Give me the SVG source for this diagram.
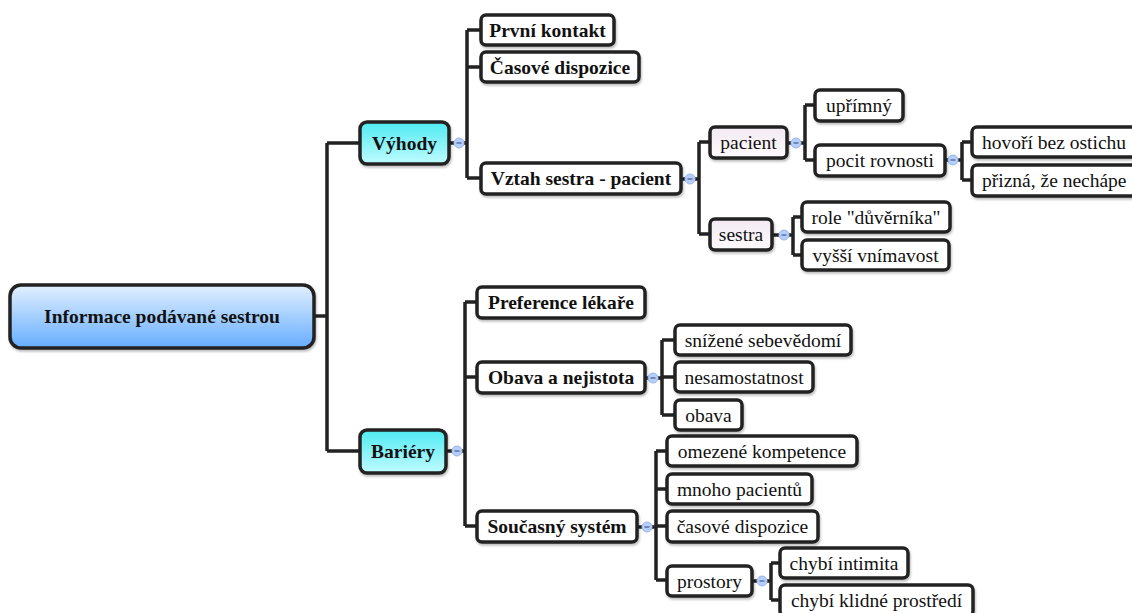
<svg xmlns="http://www.w3.org/2000/svg" width="1132" height="613" viewBox="0 0 1132 613">
  <defs>
    <linearGradient id="gRoot" x1="0" y1="0" x2="0" y2="1">
      <stop offset="0" stop-color="#e2f0ff"/>
      <stop offset="1" stop-color="#66adff"/>
    </linearGradient>
    <linearGradient id="gMain" x1="0" y1="0" x2="0" y2="1">
      <stop offset="0" stop-color="#4feaf2"/>
      <stop offset="1" stop-color="#bffcff"/>
    </linearGradient>
    <linearGradient id="gSub" x1="0" y1="0" x2="0" y2="1">
      <stop offset="0" stop-color="#f3e9f3"/>
      <stop offset="1" stop-color="#fdfbfd"/>
    </linearGradient>
    <filter id="shadow" x="-10%" y="-20%" width="120%" height="150%">
      <feDropShadow dx="1" dy="2" stdDeviation="1.2" flood-color="#000" flood-opacity="0.25"/>
    </filter>
  </defs>
  <style>
    .box { fill: #ffffff; stroke: #222222; stroke-width: 3.5; filter: url(#shadow); }
    .root { fill: url(#gRoot); }
    .main { fill: url(#gMain); }
    .sub { fill: url(#gSub); }
    text { font-family: 'Liberation Serif', 'Times New Roman', Times, serif; font-size: 19.5px; fill: #111111; text-anchor: middle; dominant-baseline: central; }
    .b { font-weight: bold; }
    .l { text-anchor: start; }
    .lnk { fill: none; stroke: #222222; stroke-width: 3.5; stroke-linejoin: miter; }
    .tog circle { fill: #b4ceff; stroke: #9db6e8; stroke-width: 1; }
    .tog line { stroke: #4a5a80; stroke-width: 1.2; }
  </style>

  <rect width="1132" height="613" fill="#ffffff"/>

  <!-- connectors -->
  <g id="connectors">
    <!-- root to main branches -->
    <path class="lnk" d="M314 316 H327 M327 143 V451 M327 143 H360 M327 451 H360"/>
    <!-- Výhody -->
    <path class="lnk" d="M449 143 H454 M464 143 H467 M467 30 V178 M467 30 H481 M467 67 H481 M467 178 H481"/>
    <!-- Vztah sestra - pacient -->
    <path class="lnk" d="M681 179 H685 M695 179 H699 M699 142 V234 M699 142 H710 M699 234 H710"/>
    <!-- pacient -->
    <path class="lnk" d="M787 143 H791 M801 143 H805 M805 105 V160 M805 105 H815 M805 160 H815"/>
    <!-- pocit rovnosti -->
    <path class="lnk" d="M945 160 H948 M958 160 H962 M962 142 V180 M962 142 H972 M962 180 H972"/>
    <!-- sestra -->
    <path class="lnk" d="M772 235 H779 M789 235 H793 M793 217 V255 M793 217 H802 M793 255 H802"/>
    <!-- Bariéry -->
    <path class="lnk" d="M446 451 H452 M462 451 H465 M465 302 V526 M465 302 H477 M465 377 H477 M465 526 H477"/>
    <!-- Obava a nejistota -->
    <path class="lnk" d="M645 378 H648 M658 378 H662 M662 340 V415 M662 340 H675 M662 377 H675 M662 415 H675"/>
    <!-- Současný systém -->
    <path class="lnk" d="M637 527 H642 M652 527 H656 M656 451 V580 M656 451 H667 M656 489 H667 M656 526 H667 M656 580 H667"/>
    <!-- prostory -->
    <path class="lnk" d="M752 581 H757 M767 581 H771 M771 563 V600 M771 563 H780 M771 600 H780"/>
  </g>

  <!-- collapse toggles -->
  <g id="toggles" class="tog">
    <g><circle cx="459" cy="143" r="5"/><line x1="456.5" y1="143" x2="461.5" y2="143"/></g>
    <g><circle cx="690" cy="179" r="5"/><line x1="687.5" y1="179" x2="692.5" y2="179"/></g>
    <g><circle cx="796" cy="143" r="5"/><line x1="793.5" y1="143" x2="798.5" y2="143"/></g>
    <g><circle cx="953" cy="160" r="5"/><line x1="950.5" y1="160" x2="955.5" y2="160"/></g>
    <g><circle cx="784" cy="235" r="5"/><line x1="781.5" y1="235" x2="786.5" y2="235"/></g>
    <g><circle cx="457" cy="451" r="5"/><line x1="454.5" y1="451" x2="459.5" y2="451"/></g>
    <g><circle cx="653" cy="378" r="5"/><line x1="650.5" y1="378" x2="655.5" y2="378"/></g>
    <g><circle cx="647" cy="527" r="5"/><line x1="644.5" y1="527" x2="649.5" y2="527"/></g>
    <g><circle cx="762" cy="581" r="5"/><line x1="759.5" y1="581" x2="764.5" y2="581"/></g>
  </g>

  <g id="nodes">
  <!-- root -->
  <g id="n-root">
    <rect class="box root" x="10" y="285" width="304" height="63" rx="11"/>
    <text class="b" x="162" y="316">Informace podávané sestrou</text>
  </g>

  <!-- Výhody branch -->
  <g id="n-vyhody">
    <rect class="box main" x="360" y="122" width="89" height="42" rx="7"/>
    <text class="b" x="404.5" y="143">Výhody</text>
  </g>
  <g id="n-prvni-kontakt">
    <rect class="box" x="481" y="15" width="133" height="30" rx="5"/>
    <text class="b" x="547.5" y="30">První kontakt</text>
  </g>
  <g id="n-casove-dispozice-1">
    <rect class="box" x="481" y="52" width="158" height="30" rx="5"/>
    <text class="b" x="560" y="67">Časové dispozice</text>
  </g>
  <g id="n-vztah">
    <rect class="box" x="481" y="163" width="200" height="31" rx="5"/>
    <text class="b" x="581" y="178.5">Vztah sestra - pacient</text>
  </g>
  <g id="n-pacient">
    <rect class="box sub" x="710" y="127" width="77" height="31" rx="5"/>
    <text x="748.5" y="142.5">pacient</text>
  </g>
  <g id="n-uprimny">
    <rect class="box" x="815" y="90" width="88" height="31" rx="5"/>
    <text x="859" y="105.5">upřímný</text>
  </g>
  <g id="n-pocit-rovnosti">
    <rect class="box" x="815" y="145" width="130" height="31" rx="5"/>
    <text x="880" y="160.5">pocit rovnosti</text>
  </g>
  <g id="n-hovori">
    <rect class="box" x="972" y="127" width="170" height="30" rx="5"/>
    <text class="l" x="982" y="142">hovoří bez ostichu</text>
  </g>
  <g id="n-prizna">
    <rect class="box" x="972" y="165" width="170" height="31" rx="5"/>
    <text class="l" x="982" y="180.5">přizná, že nechápe</text>
  </g>
  <g id="n-sestra">
    <rect class="box sub" x="710" y="219" width="62" height="31" rx="5"/>
    <text x="741" y="234.5">sestra</text>
  </g>
  <g id="n-role">
    <rect class="box" x="802" y="202" width="148" height="30" rx="5"/>
    <text x="876" y="217">role "důvěrníka"</text>
  </g>
  <g id="n-vyssi">
    <rect class="box" x="802" y="240" width="147" height="30" rx="5"/>
    <text x="875.5" y="255">vyšší vnímavost</text>
  </g>

  <!-- Bariéry branch -->
  <g id="n-bariery">
    <rect class="box main" x="360" y="430" width="86" height="43" rx="7"/>
    <text class="b" x="403" y="451.5">Bariéry</text>
  </g>
  <g id="n-preference">
    <rect class="box" x="477" y="287" width="168" height="31" rx="5"/>
    <text class="b" x="561" y="302.5">Preference lékaře</text>
  </g>
  <g id="n-obava-nejistota">
    <rect class="box" x="477" y="362" width="168" height="31" rx="5"/>
    <text class="b" x="561" y="377.5">Obava a nejistota</text>
  </g>
  <g id="n-snizene">
    <rect class="box" x="675" y="325" width="176" height="30" rx="5"/>
    <text x="763" y="340">snížené sebevědomí</text>
  </g>
  <g id="n-nesamostatnost">
    <rect class="box" x="675" y="362" width="138" height="30" rx="5"/>
    <text x="744" y="377">nesamostatnost</text>
  </g>
  <g id="n-obava">
    <rect class="box" x="675" y="400" width="67" height="30" rx="5"/>
    <text x="708.5" y="415">obava</text>
  </g>
  <g id="n-soucasny">
    <rect class="box" x="477" y="511" width="160" height="31" rx="5"/>
    <text class="b" x="557" y="526.5">Současný systém</text>
  </g>
  <g id="n-omezene">
    <rect class="box" x="667" y="436" width="190" height="30" rx="5"/>
    <text x="762" y="451">omezené kompetence</text>
  </g>
  <g id="n-mnoho">
    <rect class="box" x="667" y="474" width="145" height="30" rx="5"/>
    <text x="739.5" y="489">mnoho pacientů</text>
  </g>
  <g id="n-casove-dispozice-2">
    <rect class="box" x="667" y="511" width="151" height="31" rx="5"/>
    <text x="742.5" y="526.5">časové dispozice</text>
  </g>
  <g id="n-prostory">
    <rect class="box" x="667" y="566" width="85" height="30" rx="5"/>
    <text x="709.5" y="581">prostory</text>
  </g>
  <g id="n-intimita">
    <rect class="box" x="780" y="548" width="128" height="30" rx="5"/>
    <text x="844" y="563">chybí intimita</text>
  </g>
  <g id="n-klidne">
    <rect class="box" x="780" y="585" width="193" height="31" rx="5"/>
    <text x="876.5" y="600.5">chybí klidné prostředí</text>
  </g>
  </g>
</svg>
